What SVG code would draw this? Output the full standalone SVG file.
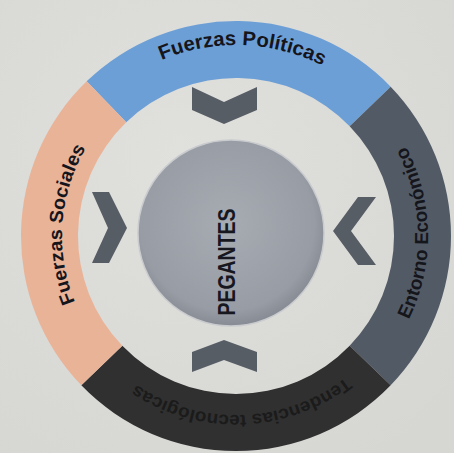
<svg xmlns="http://www.w3.org/2000/svg" width="454" height="453" viewBox="0 0 454 453">
  <defs>
    <radialGradient id="paper" cx="40%" cy="35%" r="80%">
      <stop offset="0" stop-color="#e0e0dd"/>
      <stop offset="1" stop-color="#d6d6d3"/>
    </radialGradient>
    <radialGradient id="sphere" cx="48%" cy="45%" r="55%">
      <stop offset="0" stop-color="#a7abb2"/>
      <stop offset="0.85" stop-color="#989da5"/>
      <stop offset="1" stop-color="#868b94"/>
    </radialGradient>
    <!-- baselines for the ring labels -->
    <path id="arc-top" d="M74.02,134.79 A191,191 0 0 1 404.64,146.33"/>
    <path id="arc-right" d="M334.89,400.58 A192,192 0 0 0 329.08,68.07"/>
    <path id="arc-bottom" d="M394.05,320.04 A179,179 0 0 1 84.20,330.86"/>
    <path id="arc-left" d="M138.70,380.25 A174,174 0 0 1 159.72,79.61"/>
  </defs>
  <style>
    .ring-label { font-family: "Liberation Sans", Arial, sans-serif; font-weight: bold; fill: #15151c; }
    .chev { fill: #575d65; }
  </style>

  <rect width="454" height="453" fill="url(#paper)"/>

  <g id="seg-politicas">
    <path d="M86.65,81.34 A215,215 0 0 1 390.66,86.65 L349.66,126.24 A158,158 0 0 0 126.24,122.34 Z" fill="#6d9fd7"/>
    <text class="ring-label" font-size="20"><textPath href="#arc-top" startOffset="50%" text-anchor="middle" textLength="166" lengthAdjust="spacingAndGlyphs">Fuerzas Políticas</textPath></text>
  </g>

  <g id="seg-economico">
    <path d="M390.66,86.65 A215,215 0 0 1 390.66,385.35 L349.66,345.76 A158,158 0 0 0 349.66,126.24 Z" fill="#525b65"/>
    <text class="ring-label" font-size="19"><textPath href="#arc-right" startOffset="50%" text-anchor="middle" textLength="180" lengthAdjust="spacingAndGlyphs">Entorno Económico</textPath></text>
  </g>

  <g id="seg-tecnologicas">
    <path d="M390.66,385.35 A215,215 0 0 1 81.34,385.35 L122.34,345.76 A158,158 0 0 0 349.66,345.76 Z" fill="#303030"/>
    <text class="ring-label" font-size="18" style="fill:#1b1b1b"><textPath href="#arc-bottom" startOffset="50%" text-anchor="middle" textLength="224" lengthAdjust="spacingAndGlyphs">Tendencias tecnológicas</textPath></text>
  </g>

  <g id="seg-sociales">
    <path d="M81.34,385.35 A215,215 0 0 1 86.65,81.34 L126.24,122.34 A158,158 0 0 0 122.34,345.76 Z" fill="#e9b398"/>
    <text class="ring-label" font-size="19"><textPath href="#arc-left" startOffset="50%" text-anchor="middle" textLength="160" lengthAdjust="spacingAndGlyphs">Fuerzas Sociales</textPath></text>
  </g>

  <g id="node-pegantes">
    <circle cx="231" cy="233" r="93" fill="url(#sphere)" stroke="#c9cbce" stroke-width="1.5"/>
    <text transform="translate(235,262) rotate(-90)" x="0" y="0" text-anchor="middle" font-family="Liberation Sans, Arial, sans-serif" font-weight="bold" font-size="24" textLength="107" lengthAdjust="spacingAndGlyphs" fill="#17171f">PEGANTES</text>
  </g>

  <!-- inward chevrons from each ring segment toward the centre -->
  <g id="connectors">
    <polygon class="chev" points="192,87 224,102 257,87 257,110 224,124 192,110"/>
    <polygon class="chev" points="358,197 376,197 351,231 376,265 358,265 333,231"/>
    <polygon class="chev" points="224,340 257,352 257,372 224,360 192,372 192,352"/>
    <polygon class="chev" points="92,192 109,192 127,228 109,263 92,263 108,228"/>
  </g>
</svg>
